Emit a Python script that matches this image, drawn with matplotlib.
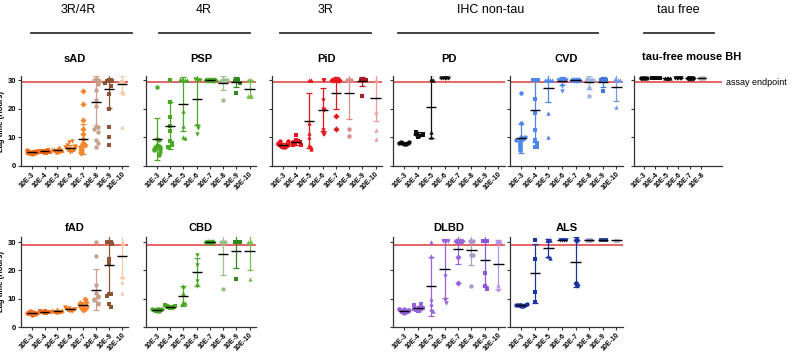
import numpy as np
import matplotlib.pyplot as plt
from matplotlib.lines import Line2D

plt.rcParams['font.family'] = ['Liberation Sans', 'DejaVu Sans']

dil = ['10E-3', '10E-4', '10E-5', '10E-6', '10E-7', '10E-8', '10E-9', '10E-10']
tau_dil = dil[:6]
markers = ['o', 's', '^', 'v', 'D', 'o', 's', '^']

# lag times (hours) per dilution, with mean and SD as plotted
sad_pts = [[4.2, 4.4, 4.5, 4.6, 4.7, 4.8, 4.8, 4.9, 5.0, 5.0, 5.1, 5.2, 5.3, 5.5, 4.5, 4.9],
           [4.5, 4.7, 4.8, 4.9, 5.0, 5.0, 5.1, 5.2, 5.3, 5.4, 5.5, 5.1],
           [5.0, 5.2, 5.4, 5.5, 5.6, 5.7, 5.8, 6.0, 6.2, 6.5, 5.5, 5.9],
           [5.0, 5.4, 5.6, 5.8, 6.0, 6.2, 6.4, 6.6, 7.0, 7.5, 8.2, 8.8, 6.1, 5.7],
           [26.0, 21.5, 16.0, 13.0, 11.0, 9.5, 8.0, 7.5, 7.0, 6.5, 6.0, 5.5, 5.0, 4.5],
           [30.5, 30.0, 30.0, 29.5, 28.5, 26.5, 23.0, 21.0, 14.0, 13.5, 13.0, 12.0, 9.0, 8.0, 6.5],
           [30.0, 30.0, 29.8, 29.5, 29.0, 28.0, 25.0, 20.0, 13.5, 10.0, 7.2],
           [30.0, 29.8, 29.5, 26.0, 25.5, 13.5]]
sad_mean = [4.9, 5.1, 5.6, 6.3, 9.4, 22.3, 26.8, 28.5]
sad_sd = [0.4, 0.3, 0.5, 0.9, 5.2, 9.0, 6.5, 3.0]

fad_pts = [[4.4, 4.6, 4.8, 4.9, 5.0, 5.0, 5.1, 5.2, 5.3, 5.5, 4.7, 5.1],
           [5.0, 5.1, 5.2, 5.3, 5.3, 5.4, 5.5, 5.5, 5.2, 5.4],
           [5.4, 5.5, 5.6, 5.7, 5.8, 5.9, 6.0, 6.2, 5.6, 5.8],
           [5.5, 5.8, 6.0, 6.2, 6.3, 6.5, 6.8, 7.0, 6.1, 6.6],
           [6.0, 6.5, 7.0, 7.2, 7.5, 7.8, 8.0, 8.5, 9.0, 10.0, 7.3, 6.8],
           [30.0, 25.0, 15.0, 12.0, 11.0, 10.5, 10.0, 9.5, 8.5, 8.0],
           [30.0, 30.0, 30.0, 29.5, 24.0, 22.5, 11.5, 11.5, 11.0, 8.0, 7.2],
           [30.0, 29.8, 17.5, 16.0, 12.0]]
fad_mean = [5.0, 5.2, 5.8, 6.3, 7.6, 13.2, 22.0, 25.0]
fad_sd = [0.3, 0.2, 0.3, 0.5, 1.2, 7.2, 10.5, 7.5]

psp_pts = [[27.5, 9.5, 9.0, 7.5, 7.0, 6.5, 6.5, 6.0, 6.0, 5.5, 5.0, 4.0],
           [30.0, 22.5, 17.2, 14.0, 12.3, 8.8, 7.9, 7.4, 6.7, 6.5],
           [30.0, 30.0, 30.0, 30.0, 30.3, 19.3, 14.0, 10.0, 9.6],
           [30.0, 30.0, 30.3, 30.0, 14.0, 13.2, 11.2],
           [30.0, 30.0, 30.0, 30.0, 30.0, 30.0],
           [30.0, 30.0, 29.5, 30.0, 23.0],
           [30.0, 30.0, 29.5, 29.0, 25.5],
           [30.0, 30.0, 30.0, 24.5, 24.5, 24.5]]
psp_mean = [9.4, 14.0, 21.6, 23.4, 30.0, 29.0, 29.3, 27.0]
psp_sd = [7.2, 8.2, 9.4, 9.2, 0.0, 2.5, 1.6, 3.0]

cbd_pts = [[5.7, 5.8, 5.9, 6.0, 6.1, 6.2, 6.3, 6.4, 6.5, 6.0],
           [6.6, 6.8, 7.0, 7.1, 7.3, 7.5, 7.7, 7.0],
           [14.6, 12.0, 9.0, 8.5, 8.0],
           [25.5, 22.0, 16.2, 14.6],
           [30.0, 30.0, 30.0, 30.0, 30.0],
           [30.0, 30.0, 30.0, 13.5],
           [30.0, 30.0, 30.0, 30.0, 17.0],
           [30.0, 30.0, 30.0, 17.0]]
cbd_mean = [6.1, 7.1, 11.0, 19.5, 30.0, 25.8, 26.7, 26.7]
cbd_sd = [0.3, 0.4, 3.6, 5.0, 0.0, 7.5, 6.0, 6.5]

pid_pts = [[6.5, 6.8, 7.0, 7.2, 7.4, 7.5, 7.8, 8.0, 8.3, 8.6, 8.8, 7.1, 7.6],
           [10.8, 9.2, 8.8, 8.5, 8.2, 8.0, 7.8, 7.5, 7.3, 8.6, 7.9],
           [30.0, 30.0, 15.0, 11.5, 10.0, 7.5, 6.5, 6.0],
           [30.0, 30.0, 23.0, 20.0, 19.5, 12.5, 11.0, 11.2],
           [30.0, 30.0, 30.0, 30.0, 30.0, 17.3, 13.0],
           [30.0, 30.0, 30.0, 13.0, 10.5],
           [30.0, 30.0, 30.0, 30.0, 24.3],
           [30.0, 19.0, 12.5, 9.5]]
pid_mean = [7.4, 8.2, 15.8, 19.6, 25.5, 25.5, 29.5, 23.7]
pid_sd = [0.6, 0.9, 9.5, 7.5, 5.6, 9.0, 1.5, 8.0]

pd_pts = [[7.6, 7.8, 8.0, 8.1, 8.3, 8.5, 7.9],
          [10.0, 10.5, 11.0, 11.5, 12.0, 10.8, 11.3],
          [30.5, 30.0, 12.0, 10.0],
          [30.6, 30.6, 30.6, 30.6, 30.6]]
pd_mean = [8.0, 11.0, 20.7, 30.6]
pd_sd = [0.3, 0.7, 11.0, 0.0]

cvd_pts = [[25.3, 15.0, 10.0, 9.5, 9.0, 8.5, 8.0, 7.5, 7.0, 6.5, 6.0, 5.6, 10.2, 9.2],
           [30.0, 30.0, 30.0, 30.0, 23.5, 18.5, 12.5, 9.0, 8.0, 6.5, 6.5],
           [30.0, 30.0, 30.0, 30.0, 30.0, 18.5, 10.0],
           [30.0, 30.3, 30.0, 30.0, 30.0, 28.0, 26.0],
           [30.0, 30.0, 30.0, 30.0, 30.0],
           [30.0, 30.0, 30.3, 30.0, 27.2, 24.5],
           [30.0, 30.3, 30.0, 30.0, 26.0],
           [30.0, 30.0, 30.3, 30.0, 20.5]]
cvd_mean = [9.6, 19.5, 27.2, 29.6, 30.0, 29.2, 29.2, 27.4]
cvd_sd = [5.2, 11.0, 5.0, 1.5, 0.0, 2.2, 1.8, 4.8]

dlbd_pts = [[5.0, 5.2, 5.4, 5.6, 5.8, 6.0, 6.2, 6.4, 6.5, 5.7, 6.1],
            [5.5, 5.8, 6.0, 6.3, 6.5, 6.8, 7.2, 7.6, 8.0, 6.6],
            [30.0, 25.0, 10.0, 8.0, 6.5, 5.5],
            [30.5, 30.5, 30.5, 30.5, 18.0, 9.5, 8.5],
            [30.5, 30.5, 30.5, 30.5, 24.7, 15.6],
            [30.5, 30.5, 30.5, 25.5, 25.5, 14.5],
            [30.5, 30.5, 30.5, 19.0, 14.5, 13.5],
            [30.5, 30.5, 30.5, 15.0, 13.5]]
dlbd_mean = [5.8, 6.6, 14.4, 20.6, 27.6, 27.2, 23.6, 22.1]
dlbd_sd = [0.5, 0.8, 10.5, 10.5, 5.2, 5.4, 9.0, 8.5]

als_pts = [[7.4, 7.5, 7.6, 7.7, 7.8, 8.0, 7.6, 7.9],
           [30.6, 24.0, 12.5, 8.8],
           [30.6, 30.6, 30.6, 25.0, 24.5],
           [30.6, 30.6, 30.6, 30.6],
           [30.6, 30.6, 15.5, 15.0],
           [30.6, 30.6, 30.6],
           [30.6, 30.6, 30.6, 30.6],
           [30.6, 30.6, 30.6]]
als_mean = [7.7, 19.0, 28.0, 30.6, 23.0, 30.6, 30.6, 30.6]
als_sd = [0.2, 10.5, 3.2, 0.0, 8.8, 0.0, 0.0, 0.0]

tau_pts = [[30.8, 30.8, 30.8, 30.8, 30.8],
           [30.8, 30.8, 30.8, 30.8, 30.8, 30.8],
           [30.7, 30.7, 30.7, 30.7],
           [30.8, 30.8, 30.8, 30.8, 30.8],
           [30.7, 30.7, 30.7, 30.7],
           [30.6, 30.6, 30.6, 30.6]]
tau_mean = [30.8, 30.8, 30.7, 30.8, 30.7, 30.6]
tau_sd = [0.0] * 6

sad_colors = ['#f26a1b', '#f26a1b', '#f47a20', '#f47a20', '#f5862e', '#c99f8a', '#8e5534', '#f6c9a6']
psp_colors = ['#48a823'] * 5 + ['#9cc08a', '#2f8a1d', '#76bd4c']
pid_colors = ['#e4161c'] * 5 + ['#d98b8e', '#a41d23', '#f09b9b']
pd_colors = ['#111111'] * 8
cvd_colors = ['#4f86ec'] * 5 + ['#9db4dd', '#4477d6', '#7098e8']
dlbd_colors = ['#9563dc'] * 5 + ['#a99bc6', '#8a58d6', '#b592ea']
als_colors = ['#1a33a0'] * 5 + ['#8a95c0', '#2f4799', '#a8b2d9']
tau_colors = ['#111111'] * 5 + ['#b4b4b4']

W, H = 793, 353
fig = plt.figure(figsize=(W / 100, H / 100), dpi=100)


def px_axes(x0, x1, ytop, ybot):
    return fig.add_axes([x0 / W, 1 - ybot / H, (x1 - x0) / W, (ybot - ytop) / H])


def swarm(vals, step=0.13, tol=1.3):
    pattern = [0, 1, -1, 2, -2, 3, -3]
    offs, placed = [], []
    for v in vals:
        n = sum(1 for p in placed if abs(p - v) < tol)
        offs.append(pattern[n % len(pattern)] * step)
        placed.append(v)
    return np.array(offs)


def panel(ax, pts, means, sds, colors, labels, ymax, redy, first=False):
    for i, vals in enumerate(pts):
        c = colors[i]
        ax.scatter(i + swarm(vals), vals, s=10, marker=markers[i], color=c,
                   linewidths=0, zorder=3)
        if sds[i] > 0:
            ax.errorbar(i, means[i], yerr=sds[i], fmt='none', ecolor=c, elinewidth=0.9,
                        capsize=2.5, capthick=0.9, zorder=2)
        ax.hlines(means[i], i - 0.38, i + 0.38, color='k', lw=1.0, zorder=4)
    ax.axhline(redy, color='#e03a3a', lw=1.1, zorder=1)
    n = len(labels)
    ax.set_xticks(range(n))
    ax.set_xticklabels(labels, rotation=45, ha='right', rotation_mode='anchor',
                       fontsize=5, fontweight='bold')
    ax.set_xlim(-0.83, n - 0.51 if n == 8 else n + 0.8)
    ax.set_ylim(0, ymax)
    ax.set_yticks([0, 10, 20, 30])
    for s in ['top', 'right']:
        ax.spines[s].set_visible(False)
    for s in ['left', 'bottom']:
        ax.spines[s].set_color('#333333')
        ax.spines[s].set_linewidth(0.9)
    ax.tick_params(length=2.5, width=0.8, pad=1, colors='#333333', labelcolor='black')
    if first:
        ax.set_yticklabels(['0', '10', '20', '30'], fontsize=5.5, fontweight='bold')
        ax.set_ylabel('Lag time (Hours)', fontsize=5.5, fontweight='bold')
        ax.yaxis.set_label_coords(-0.145, 0.5)
    else:
        ax.set_yticklabels([])


top = (76, 166)
bot = (237, 327)

ax = px_axes(21, 128, *top)
panel(ax, sad_pts, sad_mean, sad_sd, sad_colors, dil, 31.4, 29.3, first=True)
ax.set_title('sAD', fontsize=8, fontweight='bold', pad=10)

ax = px_axes(146, 256, *top)
panel(ax, psp_pts, psp_mean, psp_sd, psp_colors, dil, 31.4, 29.3)
ax.set_title('PSP', fontsize=8, fontweight='bold', pad=10)

ax = px_axes(272, 382, *top)
panel(ax, pid_pts, pid_mean, pid_sd, pid_colors, dil, 31.4, 29.3)
ax.set_title('PiD', fontsize=8, fontweight='bold', pad=10)

ax = px_axes(393, 505, *top)
panel(ax, pd_pts, pd_mean, pd_sd, pd_colors, dil, 31.4, 29.3)
ax.set_title('PD', fontsize=8, fontweight='bold', pad=10)

ax = px_axes(510, 623, *top)
panel(ax, cvd_pts, cvd_mean, cvd_sd, cvd_colors, dil, 31.4, 29.3)
ax.set_title('CVD', fontsize=8, fontweight='bold', pad=10)

ax = px_axes(634, 722, *top)
panel(ax, tau_pts, tau_mean, tau_sd, tau_colors, tau_dil, 31.4, 29.3)
fig.text(692 / W, 1 - 57 / H, 'tau-free mouse BH', fontsize=8, fontweight='bold',
         ha='center', va='center')
ax.text(1.05, 29.3, 'assay endpoint', transform=ax.get_yaxis_transform(),
        fontsize=6.5, va='center', ha='left')

ax = px_axes(21, 128, *bot)
panel(ax, fad_pts, fad_mean, fad_sd, sad_colors, dil, 31.8, 28.9, first=True)
ax.set_title('fAD', fontsize=8, fontweight='bold', pad=4)

ax = px_axes(146, 256, *bot)
panel(ax, cbd_pts, cbd_mean, cbd_sd, psp_colors, dil, 31.8, 28.9)
ax.set_title('CBD', fontsize=8, fontweight='bold', pad=4)

ax = px_axes(393, 505, *bot)
panel(ax, dlbd_pts, dlbd_mean, dlbd_sd, dlbd_colors, dil, 31.8, 28.9)
ax.set_title('DLBD', fontsize=8, fontweight='bold', pad=4)

ax = px_axes(510, 623, *bot)
panel(ax, als_pts, als_mean, als_sd, als_colors, dil, 31.8, 28.9)
ax.set_title('ALS', fontsize=8, fontweight='bold', pad=4)

# group headers
groups = [('3R/4R', 78, 31, 132), ('4R', 204, 159, 250), ('3R', 326, 280, 371),
          ('IHC non-tau', 491, 398, 598), ('tau free', 678, 644, 714)]
for name, xc, x0, x1 in groups:
    fig.text(xc / W, 1 - 10 / H, name, fontsize=9, ha='center', va='center')
    fig.add_artist(Line2D([x0 / W, x1 / W], [1 - 33 / H] * 2, color='#333333', lw=1.3,
                          transform=fig.transFigure))

fig.savefig('out.png', dpi=100)
